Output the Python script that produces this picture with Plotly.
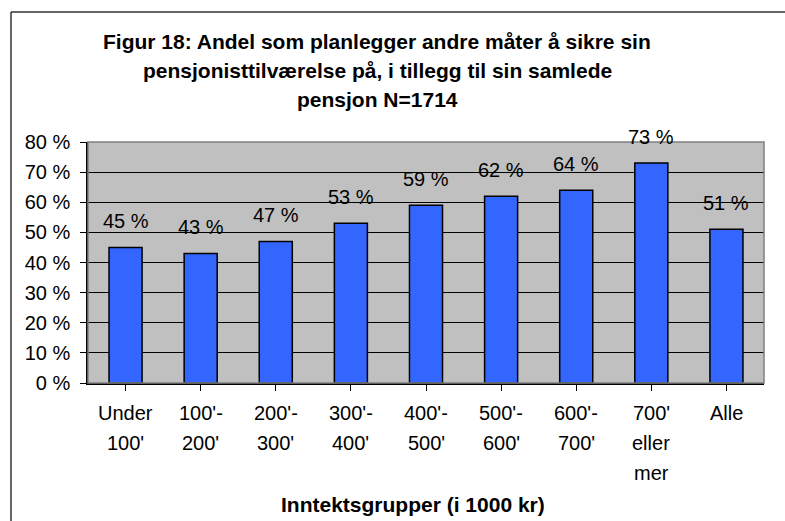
import plotly.graph_objects as go

categories = ["Under\n100'", "100'-\n200'", "200'-\n300'", "300'-\n400'", "400'-\n500'",
              "500'-\n600'", "600'-\n700'", "700'\neller\nmer", "Alle"]
values = [45, 43, 47, 53, 59, 62, 64, 73, 51]
value_labels = ["45 %", "43 %", "47 %", "53 %", "59 %", "62 %", "64 %", "73 %", "51 %"]
y_ticks = [0, 10, 20, 30, 40, 50, 60, 70, 80]
y_tick_labels = ["0 %", "10 %", "20 %", "30 %", "40 %", "50 %", "60 %", "70 %", "80 %"]
title_lines = ["Figur 18: Andel som planlegger andre måter å sikre sin",
               "pensjonisttilværelse på, i tillegg til sin samlede",
               "pensjon N=1714"]
x_title = "Inntektsgrupper (i 1000 kr)"

FONT = "Liberation Sans, Arial, sans-serif"
W, H = 785, 521
L, R, T, B = 88, 21, 142, 138
pw, ph = W - L - R, H - T - B

def px_x(x):
    return (x - L) / pw

def px_y(y):
    return (H - B - y) / ph

xs = list(range(len(categories)))

fig = go.Figure()
fig.add_trace(go.Bar(
    x=xs, y=values, width=0.44,
    marker=dict(color="#3366FF", line=dict(color="#000000", width=1.5)),
    hoverinfo="skip",
))

ann = []
for i, (v, lab) in enumerate(zip(values, value_labels)):
    ann.append(dict(x=i, y=v, xref="x", yref="y", text=lab, showarrow=False,
                    yshift=26, font=dict(family=FONT, size=20, color="#000")))
for i, c in enumerate(categories):
    for j, line in enumerate(c.split("\n")):
        ann.append(dict(x=i, y=px_y(413 + 30 * j), xref="x", yref="paper", text=line,
                        showarrow=False, yanchor="middle",
                        font=dict(family=FONT, size=20, color="#000")))
for j, line in enumerate(title_lines):
    ann.append(dict(x=px_x(377), y=px_y(42 + 29 * j), xref="paper", yref="paper",
                    text="<b>" + line + "</b>", showarrow=False, yanchor="middle",
                    xanchor="center", font=dict(family=FONT, size=21, color="#000")))
ann.append(dict(x=px_x(413), y=px_y(504), xref="paper", yref="paper",
                text="<b>" + x_title + "</b>", showarrow=False, yanchor="middle",
                font=dict(family=FONT, size=21, color="#000")))

fig.update_layout(
    width=W, height=H,
    margin=dict(l=L, r=R, t=T, b=B),
    paper_bgcolor="#FFFFFF", plot_bgcolor="#C0C0C0",
    showlegend=False,
    bargap=0.56,
    annotations=ann,
    shapes=[
        dict(type="line", xref="paper", yref="paper", x0=px_x(11), y0=px_y(12),
             x1=px_x(800), y1=px_y(12), line=dict(color="#333333", width=1.5), layer="below"),
        dict(type="line", xref="paper", yref="paper", x0=px_x(11), y0=px_y(12),
             x1=px_x(11), y1=px_y(540), line=dict(color="#333333", width=1.5), layer="below"),
        dict(type="rect", xref="paper", yref="paper", x0=0, y0=0, x1=1, y1=1,
             line=dict(color="#808080", width=1.5)),
    ],
    xaxis=dict(range=[-0.5, len(categories) - 0.5], tickmode="array", tickvals=xs,
               showticklabels=False, ticks="outside", ticklen=6, tickcolor="#000",
               tickson="boundaries", showgrid=False, showline=True,
               linecolor="#000", linewidth=1.5, zeroline=False, fixedrange=True),
    yaxis=dict(range=[0, 80], tickmode="array", tickvals=y_ticks, ticktext=y_tick_labels,
               ticks="outside", ticklen=6, tickcolor="#000", showline=True,
               linecolor="#000", linewidth=1.5, showgrid=True, gridcolor="#000",
               gridwidth=1, zeroline=False, ticklabelstandoff=6,
               tickfont=dict(family=FONT, size=20, color="#000"), fixedrange=True),
)

fig.write_html(
    "out.html",
    config={"displayModeBar": False},
    post_script="document.body.style.margin='0';document.body.style.overflow='hidden';"
                "document.documentElement.style.overflow='hidden';",
)
